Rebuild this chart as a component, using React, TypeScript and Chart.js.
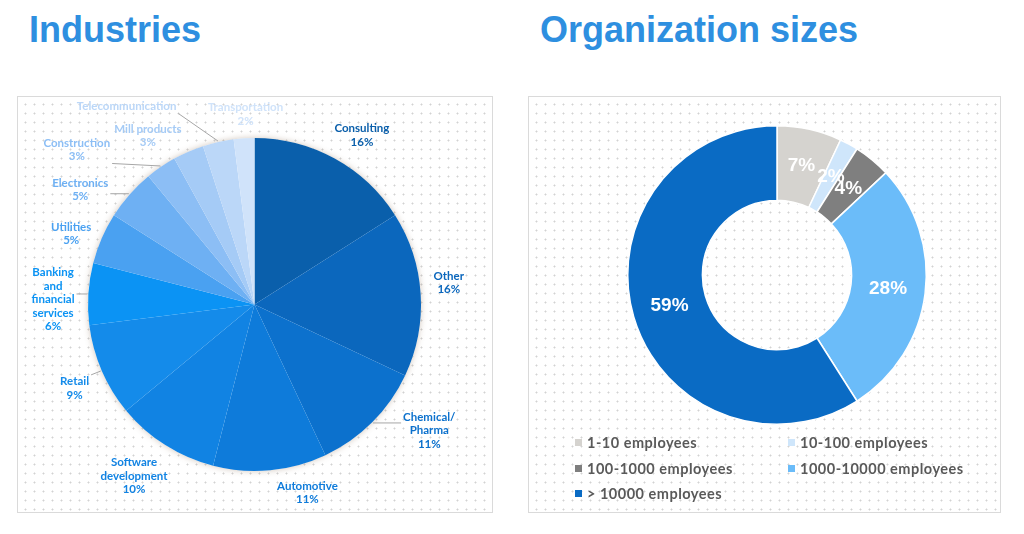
import React, { useEffect, useRef } from "react";
import { Chart, registerables } from "chart.js";

Chart.register(...registerables);

// ---------- Data: Industries ----------
const industryNames: string[][] = [
  ["Consulting"],
  ["Other"],
  ["Chemical/", "Pharma"],
  ["Automotive"],
  ["Software", "development"],
  ["Retail"],
  ["Banking", "and", "financial", "services"],
  ["Utilities"],
  ["Electronics"],
  ["Construction"],
  ["Mill products"],
  ["Telecommunication"],
  ["Transportation"],
];
const industryShares = [16, 16, 11, 11, 10, 9, 6, 5, 5, 3, 3, 3, 2];
const industryColors = [
  "#0A5FAB", "#0B67BD", "#0C71CD", "#0E7BDA", "#1183E3", "#148BEA",
  "#0B93F4", "#4AA1F1", "#6EB0F3", "#8CBEF5", "#A5CBF6", "#BBD7F8", "#D0E3FA",
];
const industriesWithoutValueLabel = ["Telecommunication"];
// label layout (angle nudge in degrees, gap beyond the pie edge in px)
const labelAngleNudge = [3.6, -2.8, -9.2, -10.3, 2.7, -1.6, -2.2, -2.3, -8.1, -14.8, -8.9, -20.3, 0.9];
const labelGap = [34, 29, 49, 29, 43, 32, 35, 30, 42, 69, 33, 69, 24];

// ---------- Data: Organization sizes ----------
const sizeNames = ["1-10 employees", "10-100 employees", "100-1000 employees", "1000-10000 employees", "> 10000 employees"];
const sizeShares = [7, 2, 4, 28, 59];
const sizeColors = ["#D5D3CF", "#CFE6FB", "#7F7F7F", "#6BBCF9", "#0A6BC4"];

const pieShadowPlugin = {
  id: "pieShadow",
  beforeDatasetsDraw(chart: any) {
    const ctx = chart.ctx as CanvasRenderingContext2D;
    const arc = chart.getDatasetMeta(0).data[0];
    if (!arc) return;
    const { x, y, outerRadius } = arc.getProps(["x", "y", "outerRadius"], true);
    ctx.save();
    ctx.shadowColor = "rgba(120, 90, 60, 0.35)";
    ctx.shadowBlur = 6;
    ctx.fillStyle = "#FFFFFF";
    ctx.beginPath();
    ctx.arc(x, y, outerRadius, 0, Math.PI * 2);
    ctx.fill();
    ctx.restore();
  },
};

const pieLabelPlugin = {
  id: "pieOuterLabels",
  afterDatasetsDraw(chart: any) {
    const ctx = chart.ctx as CanvasRenderingContext2D;
    const meta = chart.getDatasetMeta(0);
    ctx.save();
    meta.data.forEach((arc: any, i: number) => {
      const { x, y, startAngle, endAngle, outerRadius } = arc.getProps(
        ["x", "y", "startAngle", "endAngle", "outerRadius"],
        true
      );
      const mid = (startAngle + endAngle) / 2;
      const a = mid + (labelAngleNudge[i] * Math.PI) / 180;
      const d = outerRadius + labelGap[i];
      const tx = x + d * Math.cos(a);
      const ty = y + d * Math.sin(a);
      const lines = [...industryNames[i]];
      if (!industriesWithoutValueLabel.includes(industryNames[i].join(" "))) {
        lines.push(industryShares[i] + "%");
      }
      ctx.font = "bold 11.5px Lato";
      const lh = 13.5;
      const w = Math.max(...lines.map((l) => ctx.measureText(l).width));
      const h = lines.length * lh;
      const x0 = tx - w / 2 - 2, x1 = tx + w / 2 + 2, y0 = ty - h / 2, y1 = ty + h / 2;
      const px = x + (outerRadius + 1) * Math.cos(mid);
      const py = y + (outerRadius + 1) * Math.sin(mid);
      const qx = Math.min(Math.max(px, x0), x1);
      const qy = Math.min(Math.max(py, y0), y1);
      if (Math.hypot(qx - px, qy - py) > 10) {
        ctx.strokeStyle = "#A6A6A6";
        ctx.lineWidth = 1;
        ctx.beginPath();
        ctx.moveTo(px, py);
        ctx.lineTo(qx, qy);
        ctx.stroke();
      }
      ctx.fillStyle = industryColors[i];
      ctx.textAlign = "center";
      ctx.textBaseline = "middle";
      lines.forEach((l, k) => {
        ctx.fillText(l, tx, y0 + lh * (k + 0.5));
      });
    });
    ctx.restore();
  },
};

const donutValuePlugin = {
  id: "donutValues",
  afterDatasetsDraw(chart: any) {
    const ctx = chart.ctx as CanvasRenderingContext2D;
    const meta = chart.getDatasetMeta(0);
    ctx.save();
    ctx.font = "bold 19px 'Liberation Sans', Arial, sans-serif";
    ctx.fillStyle = "#FFFFFF";
    ctx.textAlign = "center";
    ctx.textBaseline = "middle";
    meta.data.forEach((arc: any, i: number) => {
      const p = arc.tooltipPosition(true);
      ctx.fillText(sizeShares[i] + "%", p.x, p.y);
    });
    ctx.restore();
  },
};

const panelStyle = (left: number, width: number): React.CSSProperties => ({
  position: "absolute",
  left,
  top: 96,
  width,
  height: 417,
  boxSizing: "border-box",
  border: "1px solid #DADADA",
  backgroundColor: "#FFFFFF",
  backgroundImage: "radial-gradient(circle, #D2D2D2 0.8px, rgba(255,255,255,0) 1.2px)",
  backgroundSize: "9px 9px",
  backgroundPosition: "3px 3px",
});

const titleStyle = (left: number): React.CSSProperties => ({
  position: "absolute",
  left,
  top: 8,
  fontFamily: "'Liberation Sans', Arial, sans-serif",
  fontWeight: "bold",
  fontSize: 36,
  color: "#2E8FE0",
  lineHeight: "44px",
  whiteSpace: "nowrap",
});

export default function App() {
  const pieRef = useRef<HTMLCanvasElement>(null);
  const donutRef = useRef<HTMLCanvasElement>(null);

  useEffect(() => {
    const pie = new Chart(pieRef.current!, {
      type: "pie",
      data: {
        labels: industryNames,
        datasets: [
          {
            data: industryShares,
            backgroundColor: industryColors,
            borderWidth: 0,
          },
        ],
      },
      options: {
        responsive: false,
        animation: false,
        layout: { padding: { top: 42, bottom: 42, left: 40, right: 40 } },
        plugins: { legend: { display: false }, tooltip: { enabled: false } },
      },
      plugins: [pieShadowPlugin, pieLabelPlugin],
    });

    const donut = new Chart(donutRef.current!, {
      type: "doughnut",
      data: {
        labels: sizeNames,
        datasets: [
          {
            data: sizeShares,
            backgroundColor: sizeColors,
            borderColor: "#FFFFFF",
            borderWidth: 1.5,
          },
        ],
      },
      options: {
        responsive: false,
        animation: false,
        cutout: "50%",
        layout: { padding: { top: 29, bottom: 88, left: 99, right: 73 } },
        plugins: { legend: { display: false }, tooltip: { enabled: false } },
      },
      plugins: [donutValuePlugin],
    });

    return () => {
      pie.destroy();
      donut.destroy();
    };
  }, []);

  const legendCols = [575, 788];
  const legendRows = [442, 468, 493];

  return (
    <div style={{ position: "absolute", left: 0, top: 0, width: 1024, height: 534, background: "#FFFFFF", overflow: "hidden" }}>
      <div style={titleStyle(29)}>Industries</div>
      <div style={titleStyle(540)}>Organization sizes</div>
      <div style={panelStyle(17, 476)} />
      <div style={panelStyle(528, 473)} />
      <canvas ref={pieRef} width={475} height={417} style={{ position: "absolute", left: 17, top: 96 }} />
      <canvas ref={donutRef} width={472} height={417} style={{ position: "absolute", left: 528, top: 96 }} />
      {sizeNames.map((name, i) => {
        const cx = legendCols[i % 2];
        const cy = legendRows[Math.floor(i / 2)];
        return (
          <div
            key={name}
            style={{
              position: "absolute",
              left: cx,
              top: cy - 10,
              height: 20,
              display: "flex",
              alignItems: "center",
              whiteSpace: "nowrap",
              fontFamily: "Lato, sans-serif",
              fontWeight: "bold",
              fontSize: 14.5,
              letterSpacing: "0.5px",
              color: "#595959",
            }}
          >
            <span style={{ display: "inline-block", width: 7, height: 7, background: sizeColors[i], marginRight: 5 }} />
            <span>{name}</span>
          </div>
        );
      })}
    </div>
  );
}
